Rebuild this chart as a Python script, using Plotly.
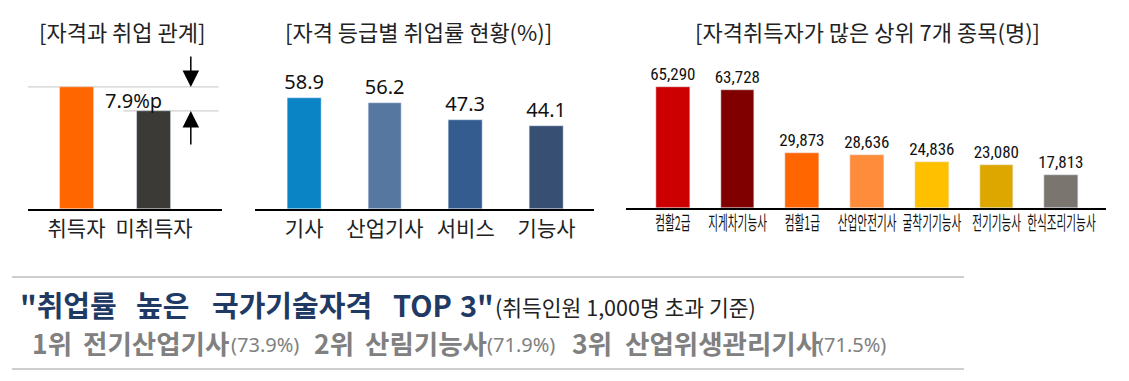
import plotly.graph_objects as go

W, H = 1129, 381
def px(x): return x / W
def py(y): return 1 - y / H

KF = "Noto Sans CJK KR, Noto Sans, sans-serif"
NF = "Noto Sans, Noto Sans CJK KR, sans-serif"
NARROW = "Liberation Sans Narrow, Arial Narrow, Roboto Condensed, Noto Sans, sans-serif"

# ---- data ----
rel_cats = ["취득자", "미취득자"]
rel_vals = [40.2, 32.3]
rel_colors = ["#FF6600", "#3B3A36"]
rel_gap_label = "7.9%p"

grade_cats = ["기사", "산업기사", "서비스", "기능사"]
grade_vals = [58.9, 56.2, 47.3, 44.1]
grade_colors = ["#0B84C6", "#5577A0", "#345C8E", "#364F72"]

top7_cats = ["컴활2급", "지게차기능사", "컴활1급", "산업안전기사", "굴착기기능사", "전기기능사", "한식조리기능사"]
top7_vals = [65290, 63728, 29873, 28636, 24836, 23080, 17813]
top7_colors = ["#CC0000", "#800000", "#FF6600", "#FF8C3A", "#FFC000", "#DDA700", "#7A766F"]

titles = ["[자격과 취업 관계]", "[자격 등급별 취업률 현황(%)]", "[자격취득자가 많은 상위 7개 종목(명)]"]

fig = go.Figure()
fig.add_trace(go.Bar(x=list(range(len(rel_cats))), y=rel_vals, marker_color=rel_colors,
                     width=0.436, xaxis="x", yaxis="y", hoverinfo="skip"))
fig.add_trace(go.Bar(x=list(range(len(grade_cats))), y=grade_vals, marker_color=grade_colors,
                     width=0.418, xaxis="x2", yaxis="y2", text=grade_vals,
                     texttemplate="%{y:.1f}", textposition="outside", cliponaxis=False,
                     constraintext="none",
                     textfont=dict(family=NF, size=20, color="#111"), hoverinfo="skip"))
fig.add_trace(go.Bar(x=list(range(len(top7_cats))), y=top7_vals, marker_color=top7_colors,
                     width=0.52, xaxis="x3", yaxis="y3", text=top7_vals,
                     texttemplate="%{y:,}", textposition="outside", cliponaxis=False,
                     constraintext="none",
                     textfont=dict(family=NARROW, size=17, color="#111"), hoverinfo="skip"))

xcommon = dict(showline=True, linecolor="black", linewidth=1.5, showgrid=False, zeroline=False,
               ticks="", fixedrange=True, tickangle=0)
ycommon = dict(visible=False, fixedrange=True)

fig.update_layout(
    width=W, height=H, margin=dict(l=0, r=0, t=0, b=0),
    paper_bgcolor="white", plot_bgcolor="white", showlegend=False, bargap=0,
    xaxis=dict(domain=[px(28), px(223)], range=[-0.628, 1.872], tickvals=list(range(len(rel_cats))),
               ticktext=rel_cats, anchor="y", tickfont=dict(family=KF, size=21, color="#222"), **xcommon),
    yaxis=dict(domain=[py(209), py(45)], range=[0, 54], anchor="x", **ycommon),
    xaxis2=dict(domain=[px(257), px(598)], range=[-0.603, 3.59], tickvals=list(range(len(grade_cats))),
                ticktext=grade_cats, anchor="y2", tickfont=dict(family=KF, size=21, color="#222"), **xcommon),
    yaxis2=dict(domain=[py(209), py(45)], range=[0, 87], anchor="x2", **ycommon),
    xaxis3=dict(domain=[px(630), px(1113)], range=[-0.721, 6.69], tickvals=list(range(len(top7_cats))),
                ticktext=top7_cats, anchor="y3", tickfont=dict(family=KF, size=16, color="#111"), **xcommon),
    yaxis3=dict(domain=[py(208), py(44)], range=[0, 88500], anchor="x3", **ycommon),
)

# reference lines and arrows on left panel
fig.add_shape(type="line", xref="paper", yref="y", x0=px(28), x1=px(220), y0=rel_vals[0], y1=rel_vals[0],
              line=dict(color="#D0D0D0", width=1.2), layer="below")
fig.add_shape(type="line", xref="paper", yref="y", x0=px(124), x1=px(220), y0=rel_vals[1], y1=rel_vals[1],
              line=dict(color="#D0D0D0", width=1.2), layer="below")
fig.add_annotation(xref="paper", yref="y", x=px(192), y=rel_vals[0], ax=0, ay=-32, text="",
                   showarrow=True, arrowhead=2, arrowsize=2.2, arrowwidth=1.5, arrowcolor="black")
fig.add_annotation(xref="paper", yref="y", x=px(192), y=rel_vals[1], ax=0, ay=35, text="",
                   showarrow=True, arrowhead=2, arrowsize=2.2, arrowwidth=1.5, arrowcolor="black")
fig.add_annotation(xref="paper", yref="paper", x=px(134), y=py(100), text=rel_gap_label, showarrow=False,
                   font=dict(family=NF, size=20, color="#111"), xanchor="center", yanchor="middle")

# panel titles
for t, cx in zip(titles, [123, 421, 873]):
    fig.add_annotation(xref="paper", yref="paper", x=px(cx), y=py(31), text=t, showarrow=False,
                       font=dict(family=KF, size=22, color="#222"), xanchor="center", yanchor="middle")

# bottom box lines
for yy in [277, 369]:
    fig.add_shape(type="line", xref="paper", yref="paper", x0=px(12), x1=px(970), y0=py(yy), y1=py(yy),
                  line=dict(color="#BEBEBE", width=1.5))

headline = [('"취업률', 18), ("높은", 135), ("국가기술자격", 211), ("TOP", 393), ('3"', 461)]
for t, x in headline:
    fig.add_annotation(xref="paper", yref="paper", x=px(x), y=py(304), text=t, showarrow=False,
                       font=dict(family=KF, size=29, color="#1F3A64", weight="bold"),
                       xanchor="left", yanchor="middle")
fig.add_annotation(xref="paper", yref="paper", x=px(496), y=py(306), text="(취득인원 1,000명 초과 기준)",
                   showarrow=False, font=dict(family=KF, size=21.5, color="#222"), xanchor="left", yanchor="middle")

rank_nums = ["1위", "2위", "3위"]
rank_names = ["전기산업기사", "산림기능사", "산업위생관리기사"]
rank_rates = ["(73.9%)", "(71.9%)", "(71.5%)"]
rank_x = [(30, 82, 230), (314, 365, 488), (574, 627, 821)]
for n, nm, r, (x1, x2, x3) in zip(rank_nums, rank_names, rank_rates, rank_x):
    fig.add_annotation(xref="paper", yref="paper", x=px(x1), y=py(342), text=n, showarrow=False,
                       font=dict(family=KF, size=26.5, color="#808080", weight="bold"), xanchor="left", yanchor="middle")
    fig.add_annotation(xref="paper", yref="paper", x=px(x2), y=py(342), text=nm, showarrow=False,
                       font=dict(family=KF, size=26.5, color="#808080", weight="bold"), xanchor="left", yanchor="middle")
    fig.add_annotation(xref="paper", yref="paper", x=px(x3), y=py(344), text=r, showarrow=False,
                       font=dict(family=NF, size=20, color="#808080"), xanchor="left", yanchor="middle")

post = """
var st = document.createElement('style');
st.textContent = 'html,body{margin:0!important;padding:0!important;overflow:hidden!important;width:1129px!important;height:381px!important;}'
  + ' .plotly-graph-div,.svg-container,.main-svg{overflow:hidden!important;}';
document.head.appendChild(st);
document.body.style.margin = '0';
var gd = document.getElementById('{plot_id}');
gd.querySelectorAll('g.x3tick text').forEach(function(t){
  var bb = t.getBBox(); var cx = bb.x + bb.width/2; var cy = bb.y + bb.height/2;
  var old = t.getAttribute('transform') || '';
  t.setAttribute('transform', old + ' translate(' + cx + ',' + cy + ') scale(0.665,1.19) translate(' + (-cx) + ',' + (-cy) + ')');
});
"""

fig.write_html("out.html", post_script=post, config={"displayModeBar": False})
